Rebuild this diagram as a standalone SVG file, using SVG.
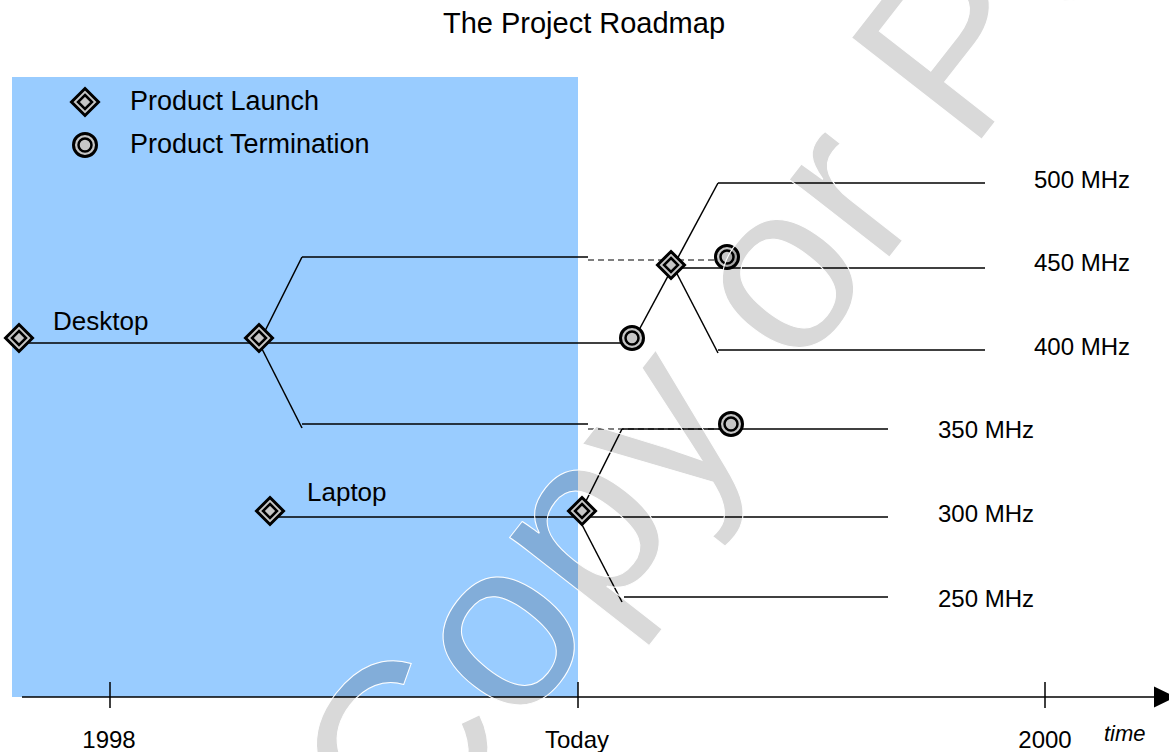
<svg xmlns="http://www.w3.org/2000/svg" xmlns:xlink="http://www.w3.org/1999/xlink" width="1169" height="752" viewBox="0 0 1169 752">
  <style>
    text { font-family: "Liberation Sans", Arial, sans-serif; fill: #000; }
    .title { font-size: 29px; text-anchor: middle; }
    .leg { font-size: 27px; }
    .big { font-size: 26px; }
    .lbl { font-size: 24px; }
    .yr { font-size: 24px; text-anchor: middle; }
    .time { font-size: 22px; font-style: italic; }
    .ln { stroke: #000; stroke-width: 1.5; fill: none; }
    .dash { stroke: #555; stroke-width: 1.5; stroke-dasharray: 6 4; fill: none; }
    .mk { fill: #c6c6c6; stroke: #000; }
    .wm { font-size: 240px; fill: #000; fill-opacity: 0.15; stroke: #fff; stroke-width: 1; }
  </style>
  <defs>
    <!-- launch marker: double diamond -->
    <g id="launch">
      <path class="mk" stroke-width="3" d="M0,-13.5 L13.5,0 L0,13.5 L-13.5,0 Z"/>
      <path class="mk" stroke-width="2.5" d="M0,-7 L7,0 L0,7 L-7,0 Z"/>
    </g>
    <!-- termination marker: double ring -->
    <g id="term">
      <circle class="mk" stroke-width="3" r="11.5"/>
      <circle class="mk" stroke-width="2.5" r="6.5"/>
    </g>
  </defs>

  <rect width="1169" height="752" fill="#fff"/>
  <!-- past period -->
  <rect id="past" x="12" y="77" width="566" height="620" fill="#99ccff"/>

  <text class="title" x="584" y="33">The Project Roadmap</text>

  <g id="legend">
    <use xlink:href="#launch" x="85" y="102"/>
    <text class="leg" x="130" y="110">Product Launch</text>
    <use xlink:href="#term" x="85" y="145"/>
    <text class="leg" x="130" y="153">Product Termination</text>
  </g>

  <g id="connectors">
    <!-- desktop -->
    <line class="ln" x1="19" y1="343" x2="632" y2="343"/>
    <line class="ln" x1="259" y1="343" x2="302" y2="257"/>
    <line class="ln" x1="302" y1="257" x2="588" y2="257"/>
    <line class="ln" x1="259" y1="343" x2="302" y2="428"/>
    <line class="ln" x1="302" y1="424" x2="588" y2="424"/>
    <line class="dash" x1="588" y1="260" x2="718" y2="260"/>
    <line class="dash" x1="588" y1="429" x2="722" y2="429"/>
    <line class="ln" x1="632" y1="343" x2="718" y2="183"/>
    <line class="ln" x1="718" y1="183" x2="985" y2="183"/>
    <line class="ln" x1="671" y1="268" x2="985" y2="268"/>
    <line class="ln" x1="674" y1="268" x2="718" y2="353"/>
    <line class="ln" x1="718" y1="350" x2="985" y2="350"/>
    <!-- laptop -->
    <line class="ln" x1="270" y1="517" x2="888" y2="517"/>
    <line class="ln" x1="578" y1="517" x2="622" y2="429"/>
    <line class="ln" x1="622" y1="429" x2="888" y2="429"/>
    <line class="ln" x1="578" y1="517" x2="622" y2="602"/>
    <line class="ln" x1="624" y1="597" x2="888" y2="597"/>
  </g>

  <g id="desktop-start"><use xlink:href="#launch" x="19" y="338"/></g>
  <g id="desktop-split"><use xlink:href="#launch" x="259" y="338"/></g>
  <g id="desktop-end"><use xlink:href="#term" x="632" y="338"/></g>
  <g id="desktop-relaunch"><use xlink:href="#launch" x="671" y="265"/></g>
  <g id="upper-end"><use xlink:href="#term" x="727" y="257"/></g>
  <g id="lower-end"><use xlink:href="#term" x="731" y="424"/></g>
  <g id="laptop-start"><use xlink:href="#launch" x="270" y="511"/></g>
  <g id="laptop-split"><use xlink:href="#launch" x="582" y="511"/></g>

  <g id="labels">
    <text class="big" x="53" y="330">Desktop</text>
    <text class="big" x="307" y="501">Laptop</text>
    <text class="lbl" x="1034" y="188">500 MHz</text>
    <text class="lbl" x="1034" y="271">450 MHz</text>
    <text class="lbl" x="1034" y="355">400 MHz</text>
    <text class="lbl" x="938" y="438">350 MHz</text>
    <text class="lbl" x="938" y="522">300 MHz</text>
    <text class="lbl" x="938" y="607">250 MHz</text>
  </g>

  <g id="axis">
    <line class="ln" x1="22" y1="697" x2="1155" y2="697"/>
    <polygon points="1154,686.5 1176,697 1154,707.5" fill="#000"/>
    <line class="ln" x1="110" y1="682" x2="110" y2="708"/>
    <line class="ln" x1="578" y1="682" x2="578" y2="708"/>
    <line class="ln" x1="1045" y1="682" x2="1045" y2="708"/>
    <text class="yr" x="109" y="748">1998</text>
    <text class="yr" x="577" y="748">Today</text>
    <text class="yr" x="1045" y="748">2000</text>
    <text class="time" x="1104" y="741">time</text>
  </g>

  <!-- diagonal watermark over everything -->
  <text class="wm" transform="translate(411,869.5) rotate(-52)">Copy or Post</text>
</svg>
